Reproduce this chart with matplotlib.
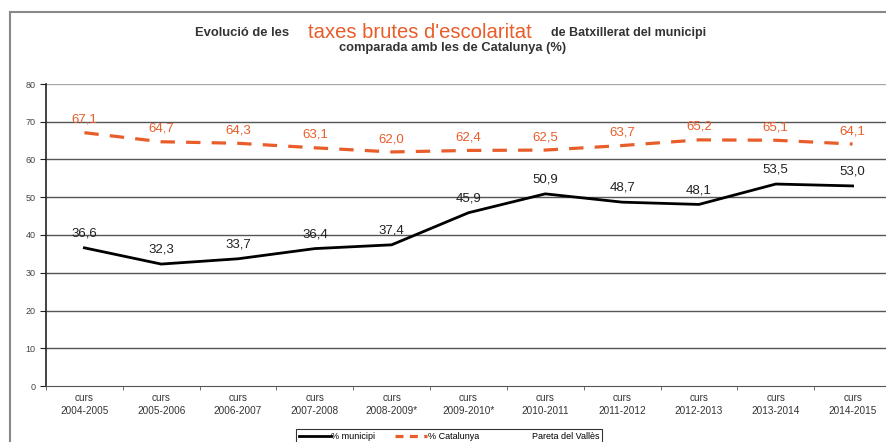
import numpy as np
import matplotlib
matplotlib.use("Agg")
import matplotlib.pyplot as plt
from matplotlib.lines import Line2D

plt.rcParams['font.family'] = ['Liberation Sans', 'DejaVu Sans']

# dades
cursos = ["2004-2005", "2005-2006", "2006-2007", "2007-2008", "2008-2009*",
          "2009-2010*", "2010-2011", "2011-2012", "2012-2013", "2013-2014", "2014-2015"]
municipi = [36.6, 32.3, 33.7, 36.4, 37.4, 45.9, 50.9, 48.7, 48.1, 53.5, 53.0]
catalunya = [67.1, 64.7, 64.3, 63.1, 62.0, 62.4, 62.5, 63.7, 65.2, 65.1, 64.1]
y_ticks = [0, 10, 20, 30, 40, 50, 60, 70, 80]

orange = "#e85d2a"
W, H = 887, 442
fig = plt.figure(figsize=(W / 100, H / 100), dpi=100)
renderer = fig.canvas.get_renderer()

# marc exterior (escanejat)
fig.add_artist(Line2D([10 / W, 10 / W], [0, 1 - 12 / H], color="#888888", lw=1.5))
fig.add_artist(Line2D([10 / W, 1], [1 - 12 / H, 1 - 12 / H], color="#888888", lw=1.5))

ax = fig.add_axes([46 / W, 1 - 386 / H, 845 / W, (386 - 84) / H])
x = np.arange(len(cursos))

ax.set_xlim(-0.5, len(cursos) - 0.5)
ax.set_ylim(0, 80)
ax.set_yticks(y_ticks)
ax.set_yticklabels([str(v) for v in y_ticks], fontsize=6.5, color="#444444")
for v in y_ticks[1:]:
    ax.axhline(v, color="#555555" if v < 80 else "#aaaaaa", lw=1, zorder=1)

ax.set_xticks(x)
ax.set_xticklabels(["curs\n" + c for c in cursos], fontsize=7.2, color="#333333", linespacing=1.4)
ax.tick_params(axis="x", length=0, pad=5)
ax.set_xticks(np.arange(-0.5, len(cursos), 1), minor=True)
ax.tick_params(axis="x", which="minor", length=3, direction="out", color="#555555")
ax.tick_params(axis="y", length=4.5, direction="out", color="#222222", pad=3)

for s in ["top", "right"]:
    ax.spines[s].set_visible(False)
ax.spines["left"].set_color("#222222")
ax.spines["left"].set_linewidth(1.2)
ax.spines["bottom"].set_color("#555555")

ax.plot(x, municipi, color="black", lw=2, zorder=3)
ax.plot(x, catalunya, color=orange, lw=2.3, ls=(0, (4.5, 3.5)), zorder=3)

for xi, v in zip(x, municipi):
    ax.annotate(f"{v:.1f}".replace(".", ","), (xi, v), xytext=(0, 6), textcoords="offset points",
                ha="center", va="bottom", fontsize=9.5, color="#222222")
for xi, v in zip(x, catalunya):
    ax.annotate(f"{v:.1f}".replace(".", ","), (xi, v), xytext=(0, 5), textcoords="offset points",
                ha="center", va="bottom", fontsize=9.5, color=orange)


# títol: cada tros centrat dins l'espai que ocupa a l'original
def fit_text(x0, x1, yc, s, shrink=0.88, **kw):
    t = fig.text((x0 + x1) / 2 / W, 1 - yc / H, s, va="center", ha="center", fontsize=10, **kw)
    w = t.get_window_extent(renderer).width
    t.set_fontsize(10 * shrink * (x1 - x0) / w)
    return t


fit_text(188, 296, 33, "Evolució de les", fontweight="bold", color="#333333")
fit_text(302, 538, 32, "taxes brutes d'escolaritat", shrink=0.95, color=orange)
fit_text(541, 717, 33, "de Batxillerat del municipi", fontweight="bold", color="#333333")
fit_text(323, 582, 48, "comparada amb les de Catalunya (%)", fontweight="bold", color="#333333")

# llegenda
handles = [Line2D([], [], color="black", lw=2),
           Line2D([], [], color=orange, lw=2.3, ls=(0, (2.5, 2))),
           Line2D([], [], color="none")]
labels = ["% municipi", "% Catalunya", "Pareta del Vallès"]
leg = fig.legend(handles, labels, loc="upper center", bbox_to_anchor=(449 / W, 1 - 424 / H),
                 ncol=3, fontsize=6.5, frameon=True, fancybox=False, edgecolor="black",
                 handlelength=3.5, handletextpad=0.1, columnspacing=2.2, borderpad=0.35)
leg.get_frame().set_linewidth(0.8)

fig.savefig("out.png", dpi=100)
